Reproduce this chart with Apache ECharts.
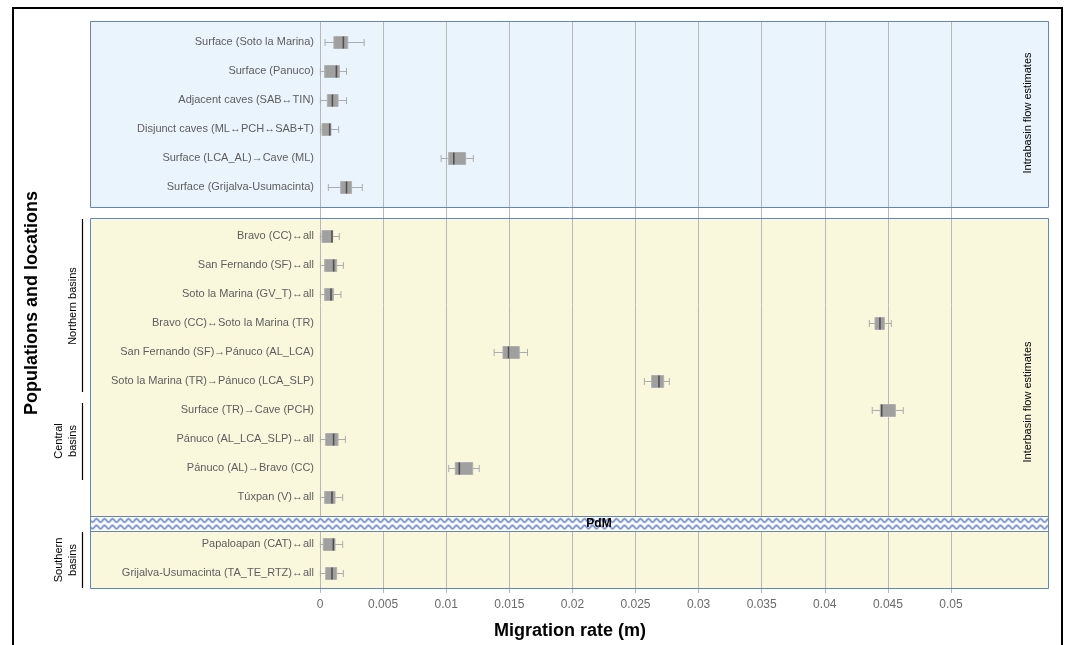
<!DOCTYPE html>
<html><head><meta charset="utf-8">
<script src="https://cdn.jsdelivr.net/npm/echarts@6/dist/echarts.min.js"></script>
<style>html,body{margin:0;padding:0;background:#fff}#c{width:1065px;height:645px}</style>
</head><body><div id="c"></div>
<script>
// ---------- data ----------
const xTickMin = 0, xTickMax = 0.05, xTickStep = 0.005;

const intraLabels = [
  'Surface (Soto la Marina)',
  'Surface (Panuco)',
  'Adjacent caves (SAB\u2194TIN)',
  'Disjunct caves (ML\u2194PCH\u2194SAB+T)',
  'Surface (LCA_AL)\u2192Cave (ML)',
  'Surface (Grijalva-Usumacinta)'
];
// [min, Q1, median, Q3, max]
const intraStats = [
  [0.0004, 0.0011, 0.00185, 0.0022, 0.0035],
  [0.00003, 0.00037, 0.0013, 0.00153, 0.0021],
  [0.00003, 0.00058, 0.00098, 0.00143, 0.0021],
  [0.00003, 0.00016, 0.00077, 0.00087, 0.00148],
  [0.0096, 0.0102, 0.0106, 0.01154, 0.01215],
  [0.00066, 0.00164, 0.0021, 0.0025, 0.00335]
];

const interLabels = [
  'Bravo (CC)\u2194all',
  'San Fernando (SF)\u2194all',
  'Soto la Marina (GV_T)\u2194all',
  'Bravo (CC)\u2194Soto la Marina (TR)',
  'San Fernando (SF)\u2192P\u00e1nuco (AL_LCA)',
  'Soto la Marina (TR)\u2192P\u00e1nuco (LCA_SLP)',
  'Surface (TR)\u2192Cave (PCH)',
  'P\u00e1nuco (AL_LCA_SLP)\u2194all',
  'P\u00e1nuco (AL)\u2192Bravo (CC)',
  'T\u00faxpan (V)\u2194all'
];
const interStats = [
  [0.00003, 0.00016, 0.00095, 0.0010, 0.00153],
  [0.00003, 0.00037, 0.00108, 0.00132, 0.00185],
  [0.00003, 0.00037, 0.00087, 0.00106, 0.00166],
  [0.04353, 0.04398, 0.04437, 0.04472, 0.04527],
  [0.0138, 0.0145, 0.01494, 0.01579, 0.01644],
  [0.0257, 0.02628, 0.02686, 0.02723, 0.02768],
  [0.04376, 0.0444, 0.04451, 0.04559, 0.04622],
  [0.00003, 0.00045, 0.00108, 0.00143, 0.00201],
  [0.0102, 0.01072, 0.01104, 0.0121, 0.01262],
  [0.00003, 0.00037, 0.00095, 0.00119, 0.0018]
];

const southLabels = [
  'Papaloapan (CAT)\u2194all',
  'Grijalva-Usumacinta (TA_TE_RTZ)\u2194all'
];
const southStats = [
  [0.00003, 0.00026, 0.00106, 0.00119, 0.0018],
  [0.00003, 0.00045, 0.00095, 0.00132, 0.00185]
];

// ---------- styles ----------
const FONT = "'Liberation Sans', Arial, Helvetica, sans-serif";
const BOX_FILL = '#a0a0a0', BOX_EDGE = '#b0b0b0', MEDIAN = '#505050', WHISK = '#acacac';
const GRIDLINE = '#b8b8b8';
const PANEL_EDGE = '#6483c1';

function renderBox(params, api) {
  const yi = api.value(0);
  const pMin = api.coord([api.value(1), yi]);
  const pQ1 = api.coord([api.value(2), yi]);
  const pMed = api.coord([api.value(3), yi]);
  const pQ3 = api.coord([api.value(4), yi]);
  const pMax = api.coord([api.value(5), yi]);
  const y = Math.round(pMin[1]) + 0.5;
  const bh = 12, ch = 7;
  const ws = { stroke: WHISK, lineWidth: 1 };
  return {
    type: 'group',
    children: [
      { type: 'line', shape: { x1: pMin[0], y1: y, x2: pMax[0], y2: y }, style: ws },
      { type: 'line', shape: { x1: pMin[0], y1: y - ch / 2, x2: pMin[0], y2: y + ch / 2 }, style: ws },
      { type: 'line', shape: { x1: pMax[0], y1: y - ch / 2, x2: pMax[0], y2: y + ch / 2 }, style: ws },
      { type: 'rect', shape: { x: pQ1[0], y: y - bh / 2, width: pQ3[0] - pQ1[0], height: bh },
        style: { fill: BOX_FILL, stroke: BOX_EDGE, lineWidth: 1 } },
      { type: 'line', shape: { x1: pMed[0], y1: y - bh / 2, x2: pMed[0], y2: y + bh / 2 },
        style: { stroke: MEDIAN, lineWidth: 1.6 } }
    ]
  };
}

function boxSeries(stats, idx) {
  return {
    type: 'custom',
    xAxisIndex: idx, yAxisIndex: idx,
    renderItem: renderBox,
    encode: { x: [1, 2, 3, 4, 5], y: 0 },
    data: stats.map((s, i) => [i].concat(s)),
    z: 3, silent: true
  };
}

function catAxis(labels, idx) {
  return {
    type: 'category', gridIndex: idx, data: labels, inverse: true,
    axisLine: { show: false }, axisTick: { show: false }, splitLine: { show: false },
    axisLabel: { color: '#5e5e5e', fontSize: 11, fontFamily: FONT, margin: 6 }
  };
}
function hiddenX(idx) {
  return { type: 'value', gridIndex: idx, min: xTickMin, max: xTickMax, show: false, splitLine: { show: false } };
}

function wavePattern() {
  const c = document.createElement('canvas');
  c.width = 8; c.height = 15;
  const g = c.getContext('2d');
  g.fillStyle = '#ffffff'; g.fillRect(0, 0, 8, 15);
  g.strokeStyle = '#4166c4'; g.lineWidth = 1.3;
  [4.0, 10.5].forEach(cy => {
    g.beginPath();
    for (let x = -1; x <= 9; x += 0.5) {
      const y = cy + 1.7 * Math.sin(2 * Math.PI * x / 8);
      if (x === -1) g.moveTo(x, y); else g.lineTo(x, y);
    }
    g.stroke();
  });
  return c;
}

const chart = echarts.init(document.getElementById('c'), null, { renderer: 'canvas' });
chart.setOption({
  animation: false,
  backgroundColor: '#ffffff',
  grid: [
    { left: 320, width: 631, top: 21, height: 567 },
    { left: 320, width: 631, top: 27.5, height: 174 },
    { left: 320, width: 631, top: 221.5, height: 290 },
    { left: 320, width: 631, top: 529.5, height: 58 }
  ],
  xAxis: [
    {
      type: 'value', gridIndex: 0, min: xTickMin, max: xTickMax, interval: xTickStep,
      axisLine: { show: false },
      axisTick: { show: true, length: 5, lineStyle: { color: GRIDLINE } },
      splitLine: { show: true, lineStyle: { color: GRIDLINE, width: 1 } },
      axisLabel: { color: '#6a6a6a', fontSize: 12, fontFamily: FONT, margin: 11,
        formatter: v => String(+v.toFixed(3)) }
    },
    hiddenX(1), hiddenX(2), hiddenX(3)
  ],
  yAxis: [
    { type: 'value', gridIndex: 0, min: 0, max: 1, show: false, splitLine: { show: false } },
    catAxis(intraLabels, 1), catAxis(interLabels, 2), catAxis(southLabels, 3)
  ],
  series: [boxSeries(intraStats, 1), boxSeries(interStats, 2), boxSeries(southStats, 3)],
  graphic: [
    { type: 'rect', silent: true, z: 20, shape: { x: 13, y: 8, width: 1049, height: 700 },
      style: { fill: 'none', stroke: '#000', lineWidth: 2 } },
    { type: 'rect', silent: true, z: -10, shape: { x: 90.5, y: 21.5, width: 958, height: 186 },
      style: { fill: '#eaf4fc' } },
    { type: 'rect', silent: true, z: -10, shape: { x: 90.5, y: 218.5, width: 958, height: 370 },
      style: { fill: '#f9f8dc' } },
    { type: 'rect', silent: true, z: 10, shape: { x: 90.5, y: 21.5, width: 958, height: 186 },
      style: { fill: 'none', stroke: PANEL_EDGE, lineWidth: 1 } },
    { type: 'rect', silent: true, z: 10, shape: { x: 90.5, y: 218.5, width: 958, height: 370 },
      style: { fill: 'none', stroke: PANEL_EDGE, lineWidth: 1 } },
    { type: 'rect', silent: true, z: 8, x: 90.5, y: 516.5, shape: { x: 0, y: 0, width: 958, height: 15 },
      style: { fill: { image: wavePattern(), repeat: 'repeat' }, stroke: PANEL_EDGE, lineWidth: 1 } },
    { type: 'text', silent: true, z: 12, x: 599, y: 523.5,
      style: { text: 'PdM', fill: '#000', font: 'bold 12px ' + FONT, align: 'center', verticalAlign: 'middle' } },
    { type: 'line', silent: true, z: 10, shape: { x1: 82.5, y1: 219, x2: 82.5, y2: 392 }, style: { stroke: '#000', lineWidth: 1.2 } },
    { type: 'line', silent: true, z: 10, shape: { x1: 82.5, y1: 403, x2: 82.5, y2: 480 }, style: { stroke: '#000', lineWidth: 1.2 } },
    { type: 'line', silent: true, z: 10, shape: { x1: 82.5, y1: 532, x2: 82.5, y2: 588 }, style: { stroke: '#000', lineWidth: 1.2 } },
    { type: 'text', silent: true, z: 10, x: 73, y: 306, rotation: Math.PI / 2,
      style: { text: 'Northern basins', fill: '#000', font: '11px ' + FONT, align: 'center', verticalAlign: 'middle' } },
    { type: 'text', silent: true, z: 10, x: 66, y: 441, rotation: Math.PI / 2,
      style: { text: 'Central\nbasins', fill: '#000', font: '11px ' + FONT, lineHeight: 14, align: 'center', verticalAlign: 'middle' } },
    { type: 'text', silent: true, z: 10, x: 66, y: 560, rotation: Math.PI / 2,
      style: { text: 'Southern\nbasins', fill: '#000', font: '11px ' + FONT, lineHeight: 14, align: 'center', verticalAlign: 'middle' } },
    { type: 'text', silent: true, z: 10, x: 1028, y: 113, rotation: Math.PI / 2,
      style: { text: 'Intrabasin flow estimates', fill: '#000', font: '11px ' + FONT, align: 'center', verticalAlign: 'middle' } },
    { type: 'text', silent: true, z: 10, x: 1028, y: 402, rotation: Math.PI / 2,
      style: { text: 'Interbasin flow estimates', fill: '#000', font: '11px ' + FONT, align: 'center', verticalAlign: 'middle' } },
    { type: 'text', silent: true, z: 10, x: 32, y: 303, rotation: Math.PI / 2,
      style: { text: 'Populations and locations', fill: '#000', font: 'bold 18px ' + FONT, align: 'center', verticalAlign: 'middle' } },
    { type: 'text', silent: true, z: 10, x: 570, y: 631,
      style: { text: 'Migration rate (m)', fill: '#000', font: 'bold 18px ' + FONT, align: 'center', verticalAlign: 'middle' } }
  ]
});
</script>
</body></html>
